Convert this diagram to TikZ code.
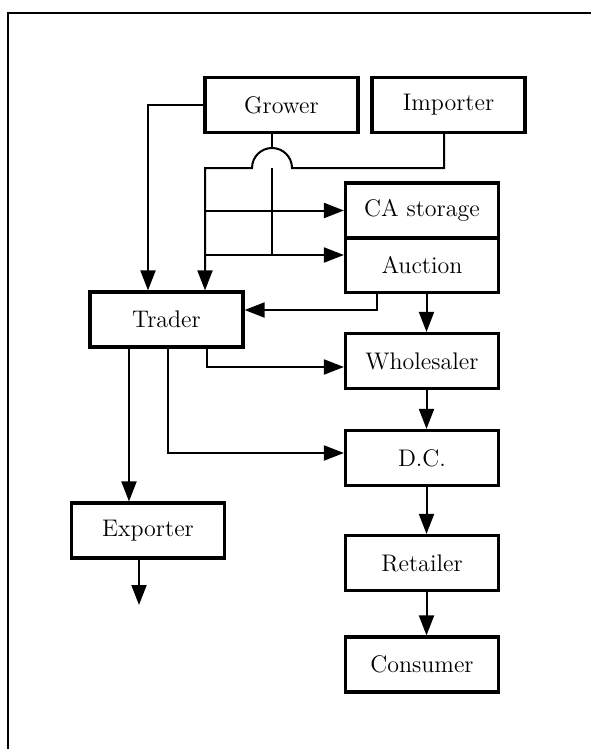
\documentclass[tikz,border=0pt]{standalone}
\usetikzlibrary{arrows.meta}

\begin{document}
\begin{tikzpicture}[x=0.5pt, y=-0.5pt,
		box/.style={draw, line width=1.6pt, minimum width=76.5pt,
			minimum height=27.5pt, inner sep=0pt, font=\fontsize{12}{14}\selectfont},
		conn/.style={line width=1pt},
		arr/.style={conn, -{Triangle[length=10pt, width=7.5pt]}}]
			\useasboundingbox (0,0) rectangle (590,749);
			% frame, cut off at the right and at the bottom
			\draw[line width=1.2pt] (8,13) rectangle (600,760);
			\node[box] (grower) at (281.5,105) {Grower};
			\node[box] (importer) at (448.5,105) {Importer};
			\node[box] (castorage) at (422,210.5) {CA storage};
			\node[box] (auction) at (422,265) {Auction};
			\node[box] (trader) at (166.5,319.5) {Trader};
			\node[box] (wholesaler) at (422,361) {Wholesaler};
			\node[box] (dc) at (422,458) {D.C.};
			\node[box] (retailer) at (422,563) {Retailer};
			\node[box] (consumer) at (422,664.5) {Consumer};
			\node[box] (exporter) at (148,530.5) {Exporter};
			\coordinate (hop) at (272,168);
			\coordinate (bus) at (205,168);
			\coordinate (lo) at (205,255);
			\coordinate (imp) at (444,0);
			\coordinate (back) at (377,310);
			\coordinate (spine) at (426.5,0);
			\coordinate (tw) at (207,367);
			\coordinate (td) at (168,453);
			\coordinate (te) at (129,0);
			\coordinate (out) at (139,605);
			% grower and importer into trader, storage and auction
			\draw[arr] (grower.west) -| (trader.north -| exporter);
			\draw[arr] (importer.south -| imp) |- (292,168)
				arc[start angle=0, end angle=-180, radius=20] -- (bus) -- (trader.north -| bus);
			\draw[conn] (grower.south -| hop) -- (272,148);
			\draw[conn] (hop) -- (hop |- lo);
			\draw[arr] (bus |- castorage) -- (castorage.west);
			\draw[arr] (lo) -- (lo -| auction.west);
			\draw[arr] (auction.south -| back) |- (back -| trader.east);
			% trader outlets
			\draw[arr] (trader.south -| tw) |- (tw -| wholesaler.west);
			\draw[arr] (trader.south -| td) |- (td -| dc.west);
			\draw[arr] (trader.south -| te) -- (exporter.north -| te);
			\draw[arr] (exporter.south -| out) -- (out);
			% down the chain
			\draw[arr] (auction.south -| spine) -- (wholesaler.north -| spine);
			\draw[arr] (wholesaler.south -| spine) -- (dc.north -| spine);
			\draw[arr] (dc.south -| spine) -- (retailer.north -| spine);
			\draw[arr] (retailer.south -| spine) -- (consumer.north -| spine);
		\end{tikzpicture}
\end{document}
